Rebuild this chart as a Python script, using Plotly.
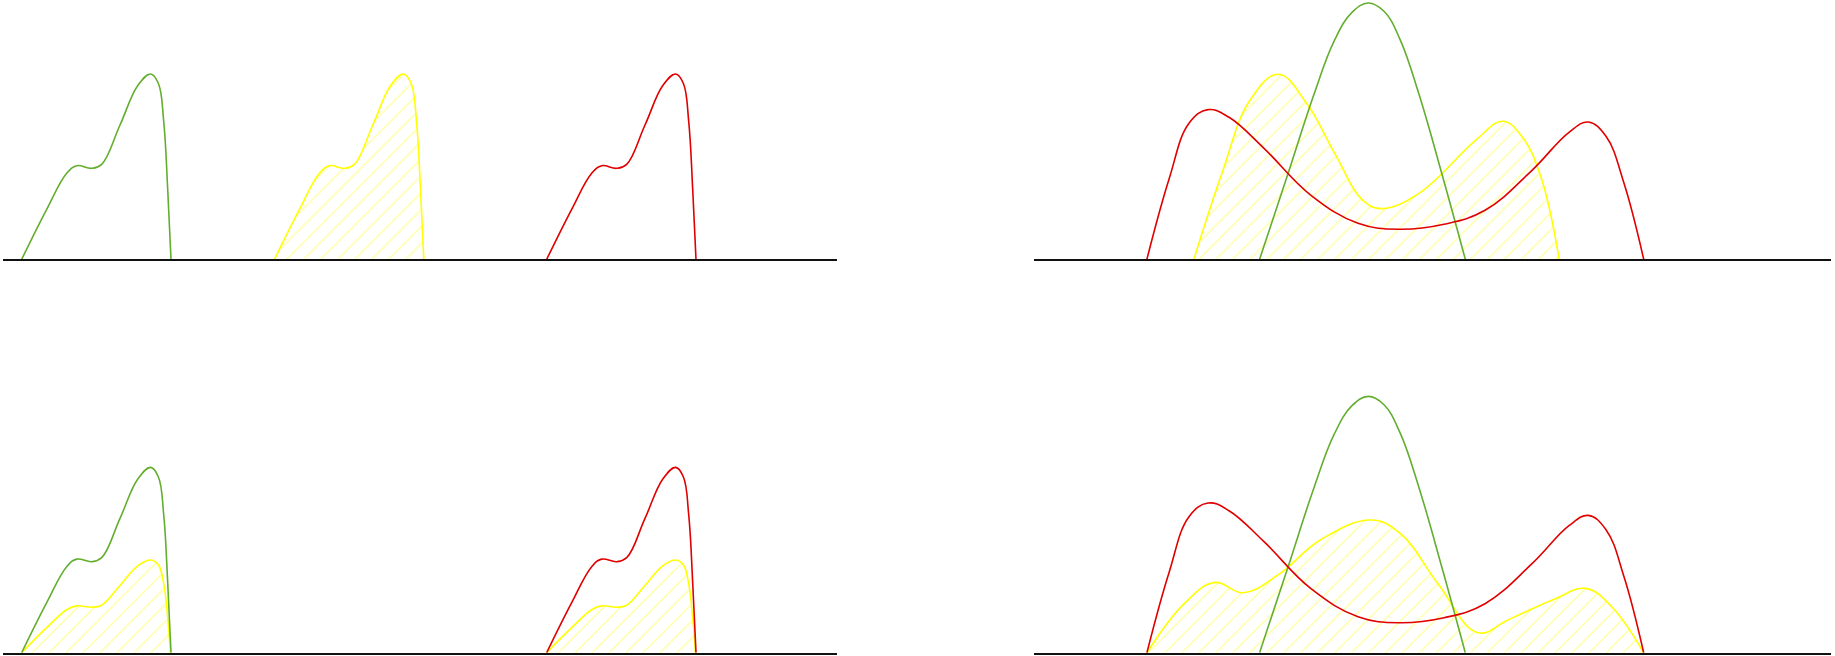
import plotly.graph_objects as go

# ---------------- data (x: position along each panel's axis, y: height) ----------------
# top-left panel
tl_green_x = [18.7, 43.7, 63.7, 73.7, 88.7, 98.7, 117.0, 135.0, 147.7, 155.3, 160.7, 164.7, 168.0]
tl_green_y = [0, 50, 86, 93.6, 91, 95, 134.3, 174, 185.3, 176.0, 138, 70, 0]
tl_yellow_x = [271.5, 296.5, 316.5, 326.5, 341.5, 351.5, 369.8, 387.8, 400.5, 408.1, 413.5, 417.5, 420.8]
tl_yellow_y = [0, 50, 86, 93.6, 91, 95, 134.3, 174, 185.3, 176.0, 138, 70, 0]
tl_red_x = [543.7, 568.7, 588.7, 598.7, 613.7, 623.7, 642.0, 660.0, 672.7, 680.3, 685.7, 689.7, 693.0]
tl_red_y = [0, 50, 86, 93.6, 91, 95, 134.3, 174, 185.3, 176.0, 138, 70, 0]

# bottom-left panel
bl_green_x = tl_green_x
bl_green_y = tl_green_y
bl_red_x = tl_red_x
bl_red_y = tl_red_y
bl_yellow_a_x = [18.7, 43.7, 63.7, 73.7, 88.7, 98.7, 117.0, 135.0, 147.7, 155.3, 160.7, 164.7, 167.5]
bl_yellow_a_y = [0, 25, 43, 46.8, 45.5, 47.5, 67.2, 87, 92.7, 88.0, 69, 35, 0]
bl_yellow_b_x = [543.7, 568.7, 588.7, 598.7, 613.7, 623.7, 642.0, 660.0, 672.7, 680.3, 685.7, 689.7, 692.5]
bl_yellow_b_y = [0, 25, 43, 46.8, 45.5, 47.5, 67.2, 87, 92.7, 88.0, 69, 35, 0]

# top-right panel
tr_red_x = [112.9, 135.0, 155.0, 174.0, 195.0, 230.0, 277.0, 324.0, 365.0, 410.0, 451.0, 498.0,
            535.0, 554.3, 572.0, 590.0, 609.7]
tr_red_y = [0, 80, 136, 149.7, 142, 111, 64, 36, 30, 35, 49, 89,
            127, 137.3, 123, 76, 0]
tr_yellow_x = [159.9, 188.0, 216.0, 244.4, 272.6, 300.7, 328.9, 347.7, 385.0, 441.6, 468.8, 488.5,
               507.0, 525.2]
tr_yellow_y = [0, 86, 159, 185, 156, 106, 59, 50.7, 66, 119, 138, 122,
               82, 0]
tr_green_x = [225.6, 253.8, 280.0, 300.0, 318.0, 334.3, 350.0, 366.0, 385.0, 408.0, 431.3]
tr_green_y = [0, 85, 165, 218, 247, 256.3, 248, 220, 165, 85, 0]

# bottom-right panel
br_red_x = tr_red_x
br_red_y = tr_red_y
br_green_x = tr_green_x
br_green_y = tr_green_y
br_yellow_x = [112.9, 150.5, 181.0, 209.0, 244.4, 286.7, 337.4, 366.5, 404.0, 443.9, 474.5, 521.4,
               551.9, 577.7, 609.7]
br_yellow_y = [0, 49.3, 70.3, 60, 78, 113, 132.7, 119, 69, 20, 33, 54,
               64.3, 46, 0]

LEFT_RANGE = [0, 834]
RIGHT_RANGE = [0, 797]
Y_RANGE = [0, 259.3]

# ---------------- styles ----------------
GREEN = "#63ae2f"
YELLOW = "#ffff00"
RED = "#e00000"
LW = 1.6
SMOOTH = 1.15

fig = go.Figure()


def line(x, y, color, xa, ya):
    fig.add_trace(go.Scatter(x=x, y=y, mode="lines", xaxis=xa, yaxis=ya,
                             line=dict(color=color, width=LW, shape="spline", smoothing=SMOOTH),
                             hoverinfo="skip", showlegend=False))


def hatched(x, y, xa, ya):
    fig.add_trace(go.Scatter(x=x, y=y, mode="lines", xaxis=xa, yaxis=ya, fill="tozeroy",
                             fillcolor="rgba(0,0,0,0)",
                             fillpattern=dict(shape="/", fgcolor="rgba(255,255,0,0.7)",
                                              bgcolor="rgba(0,0,0,0)", size=12, solidity=0.12),
                             line=dict(color=YELLOW, width=LW, shape="spline", smoothing=SMOOTH),
                             hoverinfo="skip", showlegend=False))


# top-left
hatched(tl_yellow_x, tl_yellow_y, "x", "y")
line(tl_green_x, tl_green_y, GREEN, "x", "y")
line(tl_red_x, tl_red_y, RED, "x", "y")
# top-right
hatched(tr_yellow_x, tr_yellow_y, "x2", "y2")
line(tr_green_x, tr_green_y, GREEN, "x2", "y2")
line(tr_red_x, tr_red_y, RED, "x2", "y2")
# bottom-left
hatched(bl_yellow_a_x, bl_yellow_a_y, "x3", "y3")
hatched(bl_yellow_b_x, bl_yellow_b_y, "x3", "y3")
line(bl_green_x, bl_green_y, GREEN, "x3", "y3")
line(bl_red_x, bl_red_y, RED, "x3", "y3")
# bottom-right
hatched(br_yellow_x, br_yellow_y, "x4", "y4")
line(br_green_x, br_green_y, GREEN, "x4", "y4")
line(br_red_x, br_red_y, RED, "x4", "y4")

W, H = 1835, 656
left_dom = [3 / W, 837 / W]
right_dom = [1034 / W, 1831 / W]
top_dom = [1 - 259.3 / H, 1.0]
bot_dom = [1 - 652.7 / H, 1 - 393.4 / H]

xa_common = dict(showline=True, linecolor="#111111", linewidth=2, showticklabels=False, ticks="",
                 showgrid=False, zeroline=False, fixedrange=True)
ya_common = dict(showline=False, showticklabels=False, ticks="", showgrid=False, zeroline=False,
                 range=Y_RANGE, fixedrange=True)

fig.update_layout(
    width=W, height=H,
    margin=dict(l=0, r=0, t=0, b=0),
    paper_bgcolor="white", plot_bgcolor="white",
    showlegend=False,
    xaxis=dict(domain=left_dom, range=LEFT_RANGE, anchor="y", **xa_common),
    yaxis=dict(domain=top_dom, anchor="x", **ya_common),
    xaxis2=dict(domain=right_dom, range=RIGHT_RANGE, anchor="y2", **xa_common),
    yaxis2=dict(domain=top_dom, anchor="x2", **ya_common),
    xaxis3=dict(domain=left_dom, range=LEFT_RANGE, anchor="y3", **xa_common),
    yaxis3=dict(domain=bot_dom, anchor="x3", **ya_common),
    xaxis4=dict(domain=right_dom, range=RIGHT_RANGE, anchor="y4", **xa_common),
    yaxis4=dict(domain=bot_dom, anchor="x4", **ya_common),
)

fig.write_html("out.html", config={"displayModeBar": False},
               post_script="document.body.style.margin='0';")
